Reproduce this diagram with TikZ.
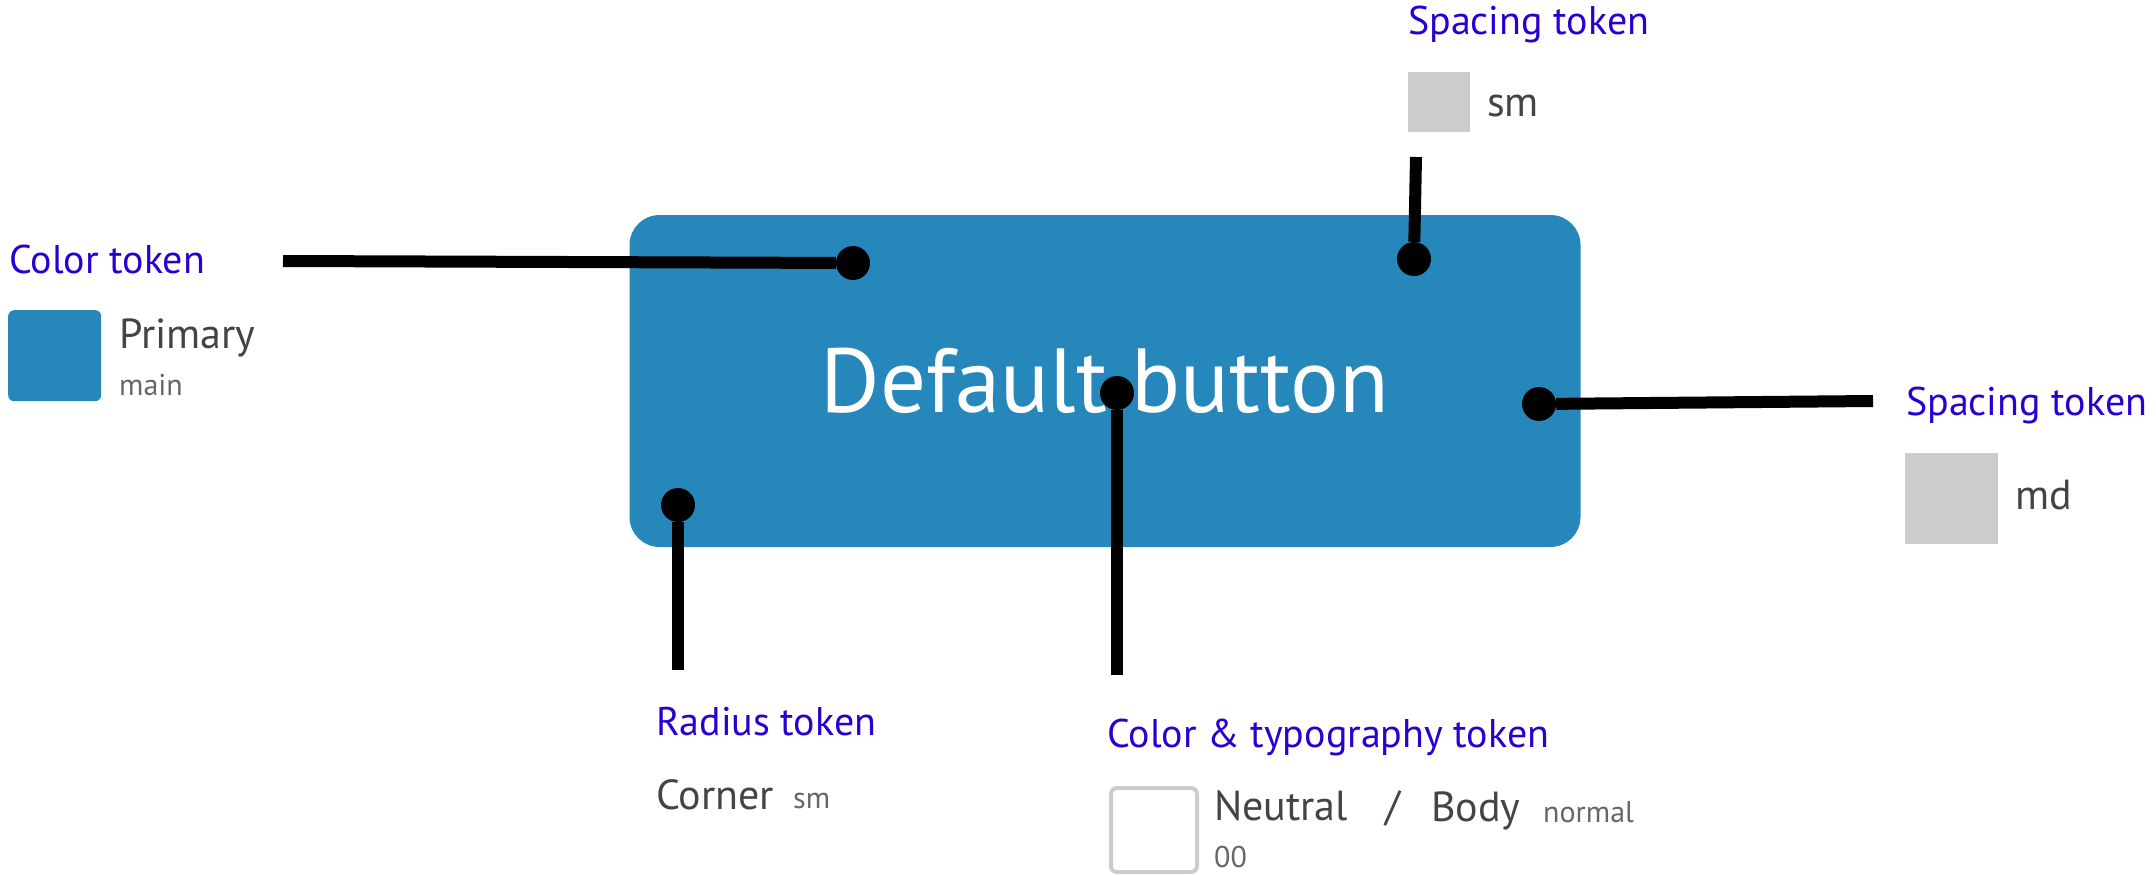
\documentclass[tikz,border=0pt]{standalone}
\usepackage{fontspec}
\setmainfont{PT Sans}
\usepackage{xcolor}
\usepackage{tikz}
\definecolor{btnblue}{HTML}{2688BA}
\definecolor{tokenblue}{HTML}{2A00D2}
\definecolor{valuegray}{HTML}{444444}
\definecolor{subgray}{HTML}{666666}
\definecolor{swatchgray}{HTML}{CCCCCC}
\tikzstyle{button} = [rectangle, rounded corners=30pt, minimum width=951pt, minimum height=332pt, inner sep=0pt, fill=btnblue, text=white, font=\fontsize{91}{100}\selectfont]
\tikzstyle{tokenlabel} = [anchor=base west, inner sep=0pt, text=tokenblue, font=\fontsize{40}{48}\selectfont]
\tikzstyle{tokenvalue} = [anchor=base west, inner sep=0pt, text=valuegray, font=\fontsize{42}{50}\selectfont]
\tikzstyle{tokensub} = [anchor=base west, inner sep=0pt, text=subgray, font=\fontsize{30}{36}\selectfont]
\tikzstyle{swatch} = [rectangle, anchor=north west, inner sep=0pt]
\tikzstyle{pindot} = [circle, fill=black, minimum size=34pt, inner sep=0pt]
\tikzstyle{pinline} = [line width=12pt, black]

\begin{document}
\begin{tikzpicture}[x=1pt, y=-1pt]
				\useasboundingbox (0,0) rectangle (2156,875);
				
				% Button
				\node (button) [button] at (1105,381) {Default button};
				
				% Color token
				\node (colorlabel) [tokenlabel] at (9,273) {Color token};
				\node (colorswatch) [swatch, rounded corners=6pt, fill=btnblue, minimum width=93pt, minimum height=91pt] at (8,310) {};
				\node (colorvalue) [tokenvalue] at (119,348) {Primary};
				\node (colorsub) [tokensub] at (119,395) {main};
				
				% Spacing token (top)
				\node (spacelabel) [tokenlabel] at (1408,35) {Spacing token};
				\node (spaceswatch) [swatch, fill=swatchgray, minimum width=62pt, minimum height=60pt] at (1408,72) {};
				\node (spacevalue) [tokenvalue] at (1487,117) {sm};
				
				% Spacing token (right)
				\node (padlabel) [tokenlabel] at (1906,415) {Spacing token};
				\node (padswatch) [swatch, fill=swatchgray, minimum width=93pt, minimum height=91pt] at (1905,453) {};
				\node (padvalue) [tokenvalue] at (2015,509) {md};
				
				% Radius token
				\node (radiuslabel) [tokenlabel] at (656,735) {Radius token};
				\node (radiusvalue) [tokenvalue] at (656,809) {Corner};
				\node (radiussub) [tokensub] at (793,808) {sm};
				
				% Color & typography token
				\node (typelabel) [tokenlabel] at (1107,747) {Color \& typography token};
				\node (typeswatch) [swatch, rounded corners=6pt, draw=swatchgray, line width=4pt, fill=white, minimum width=86pt, minimum height=84pt] at (1109,786) {};
				\node (typevalue) [tokenvalue] at (1214,820) {Neutral};
				\node (typeslash) [tokenvalue] at (1385,820) {/};
				\node (typebody) [tokenvalue] at (1431,821) {Body};
				\node (typesize) [tokensub] at (1543,822) {normal};
				\node (typesub) [tokensub] at (1214,867) {00};
				
				% Pins
				\node (colordot) [pindot] at (853,263) {};
				\node (spacedot) [pindot] at (1414,259) {};
				\node (paddot) [pindot] at (1539,404) {};
				\node (typedot) [pindot] at (1117,393) {};
				\node (radiusdot) [pindot] at (678,505) {};
				\coordinate (colorend) at (283,261);
				\coordinate (spaceend) at (1416,157);
				\coordinate (padend) at (1873,401);
				\coordinate (typeend) at (1117,675);
				\coordinate (radiusend) at (678,670);
				
				% Lines
				\draw [pinline] (colorend) -- (colordot);
				\draw [pinline] (spaceend) -- (spacedot);
				\draw [pinline] (padend) -- (paddot);
				\draw [pinline] (typeend) -- (typedot);
				\draw [pinline] (radiusend) -- (radiusdot);
				
			\end{tikzpicture}
\end{document}
